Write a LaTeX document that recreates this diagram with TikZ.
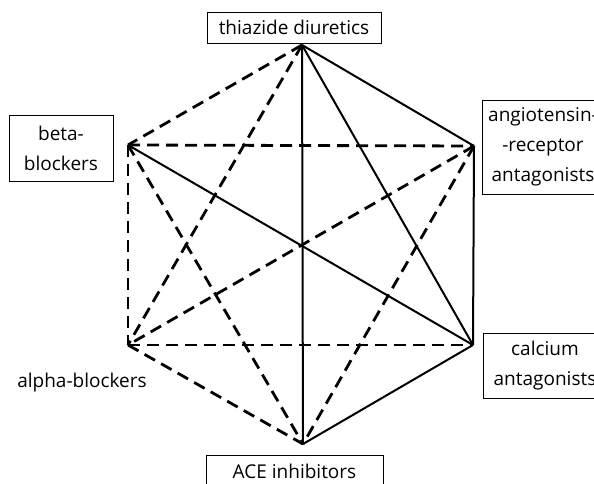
\documentclass[tikz,border=0pt]{standalone}
\usepackage{fontspec}
\setmainfont{Open Sans}
\begin{document}
\begin{tikzpicture}[x=1pt,y=1pt,
  solidedge/.style={line width=2pt},
  dashedge/.style={line width=2.8pt, dash pattern=on 12pt off 7pt},
  lbl/.style={draw, line width=0.8pt, inner sep=0pt, font=\fontsize{19}{30}\selectfont, align=center},
  txt/.style={inner sep=0pt, font=\fontsize{19}{30}\selectfont, align=center}]
\clip (0,0) rectangle (594,483);
% vertices
\coordinate (T) at (302,438);
\coordinate (UL) at (128,338);
\coordinate (UR) at (474,337);
\coordinate (LL) at (128,138);
\coordinate (LR) at (473,138);
\coordinate (B) at (303,39);
% dashed edges
\draw[dashedge] (T) -- (UL);
\draw[dashedge] (T) -- (LL);
\draw[dashedge] (UL) -- (UR);
\draw[dashedge] (UL) -- (LL);
\draw[dashedge] (UL) -- (B);
\draw[dashedge] (UR) -- (LL);
\draw[dashedge] (UR) -- (B);
\draw[dashedge] (LL) -- (LR);
\draw[dashedge] (LL) -- (B);
% solid edges
\draw[solidedge] (T) -- (UR);
\draw[solidedge] (T) -- (LR);
\draw[solidedge] (T) -- (B);
\draw[solidedge] (UL) -- (LR);
\draw[solidedge] (UR) -- (LR);
\draw[solidedge] (LR) -- (B);
% labels
\node[lbl, minimum width=174pt, minimum height=31pt] (thz) at (294,455.5) {thiazide diuretics};
\node[lbl, minimum width=104pt, minimum height=66pt] (beta) at (61,335) {beta-\\blockers};
\node[lbl, minimum width=122pt, minimum height=94pt] (angio) at (543,336) {angiotensin-\\-receptor\\antagonists};
\node[lbl, minimum width=124pt, minimum height=65pt] (calc) at (545,117.5) {calcium\\antagonists};
\node[lbl, minimum width=177pt, minimum height=32pt] (ace) at (294.5,12) {ACE inhibitors};
\node[txt] (alpha) at (82,100) {alpha-blockers};
\end{tikzpicture}
\end{document}
